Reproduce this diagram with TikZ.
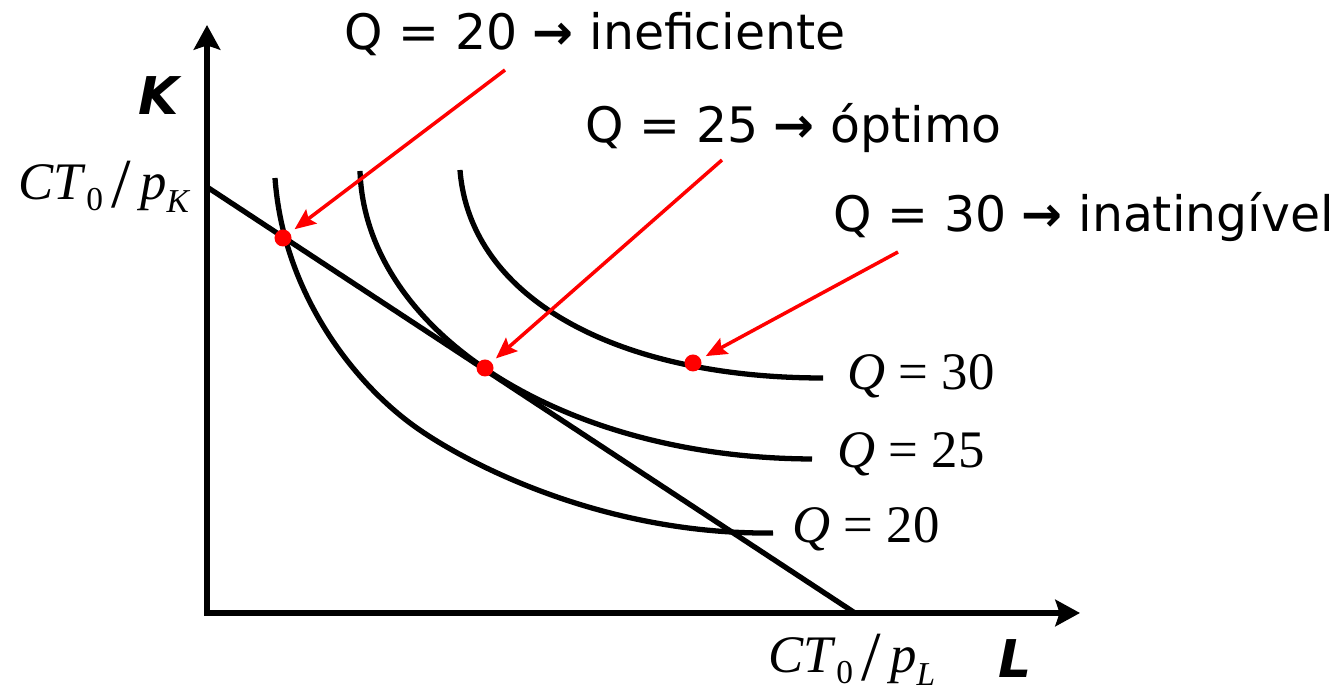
\documentclass[tikz,border=0pt]{standalone}
\usepackage{fontspec}
\setmainfont{DejaVu Sans}
\newfontfamily\tmsfont{Liberation Serif}
\usetikzlibrary{arrows.meta}
\tikzset{
  % Axes (black, filled heads)
  axis/.style={
    draw, line width=1.5pt,
    {Stealth[length=7pt, width=7.5pt, inset=1.2pt]}-{Stealth[length=7pt, width=7.5pt, inset=1.2pt]}
  },
  % Isoquants and budget line
  isoq/.style={draw, line width=1.5pt},
  budget/.style={draw, line width=1.5pt},
  % Red marker on a curve
  dot/.style={
    circle, fill=red, minimum size=0.17cm, inner sep=0pt
  },
  % Red pointer from a note to a marker
  pointer/.style={
    draw=red, line width=1pt,
    -{Stealth[length=6pt, width=5pt, inset=1pt]}, shorten >=1.5pt
  },
  % Note text (sans)
  note/.style={
    font=\fontsize{13.9pt}{16pt}\selectfont, inner sep=0pt, anchor=base west
  },
  % Axis letters (bold oblique sans)
  axlbl/.style={
    font=\fontsize{14.8pt}{16pt}\selectfont\bfseries\itshape,
    inner sep=0pt, anchor=base west
  },
  % Serif labels for curves and intercepts
  mathlbl/.style={
    font=\fontsize{15pt}{17pt}\selectfont\tmsfont,
    inner sep=0pt, anchor=base west
  }
}
\newcommand{\ctover}[1]{\textit{CT}\raisebox{-0.45ex}{\fontsize{9.5pt}{10pt}\selectfont 0}\,%
  \raisebox{-0.15em}{\fontsize{20pt}{20pt}\selectfont /}\,%
  \textit{p}\raisebox{-0.5ex}{\fontsize{9.5pt}{10pt}\selectfont\textit{#1}}}

\begin{document}
\begin{tikzpicture}[x=0.01cm, y=-0.01cm]
\useasboundingbox (0,0) rectangle (1339,686);

% ============================================================
% AXES
% ============================================================
\coordinate (k-top)  at (207,25);
\coordinate (origin) at (207,613);
\coordinate (l-end)  at (1080,613);
\draw[axis] (k-top) -- (origin) -- (l-end);

\node[axlbl] (k-lbl) at (138,115) {K};
\node[axlbl] (l-lbl) at (998,678) {L};

% ============================================================
% BUDGET LINE
% ============================================================
\coordinate (ct-k) at (207,187);
\coordinate (ct-l) at (855,613);
\draw[budget] (ct-k) -- (ct-l);

\node[mathlbl] (ctk-lbl) at (18,200) {\ctover{K}};
\node[mathlbl] (ctl-lbl) at (768,673) {\ctover{L}};

% ============================================================
% ISOQUANTS
% ============================================================
\draw[isoq] (275,178) .. controls (283,290) and (350,378) .. (410,423)
                      .. controls (460,460.5) and (600,535) .. (773,533);
\draw[isoq] (360,171) .. controls (365,330) and (560,458) .. (812,459);
\draw[isoq] (460,170) .. controls (470,300) and (620,378) .. (823,378);

\node[mathlbl] (q30-lbl) at (847,390) {\textit{Q} = 30};
\node[mathlbl] (q25-lbl) at (837,468) {\textit{Q} = 25};
\node[mathlbl] (q20-lbl) at (792,543) {\textit{Q} = 20};

% ============================================================
% MARKERS AND NOTES
% ============================================================
\node[dot] (pt-20) at (283,238) {};
\node[dot] (pt-25) at (485,368) {};
\node[dot] (pt-30) at (693,363) {};

\node[note] (note-20) at (344,50)  {Q = 20 \textbf{→} ineficiente};
\node[note] (note-25) at (585,143) {Q = 25 \textbf{→} óptimo};
\node[note] (note-30) at (833,232) {Q = 30 \textbf{→} inatingível};

\coordinate (tail-20) at (505,70);
\coordinate (tail-25) at (722,160);
\coordinate (tail-30) at (898,252);

\draw[pointer] (tail-20) -- (pt-20);
\draw[pointer] (tail-25) -- (pt-25);
\draw[pointer] (tail-30) -- (pt-30);

\end{tikzpicture}
\end{document}
